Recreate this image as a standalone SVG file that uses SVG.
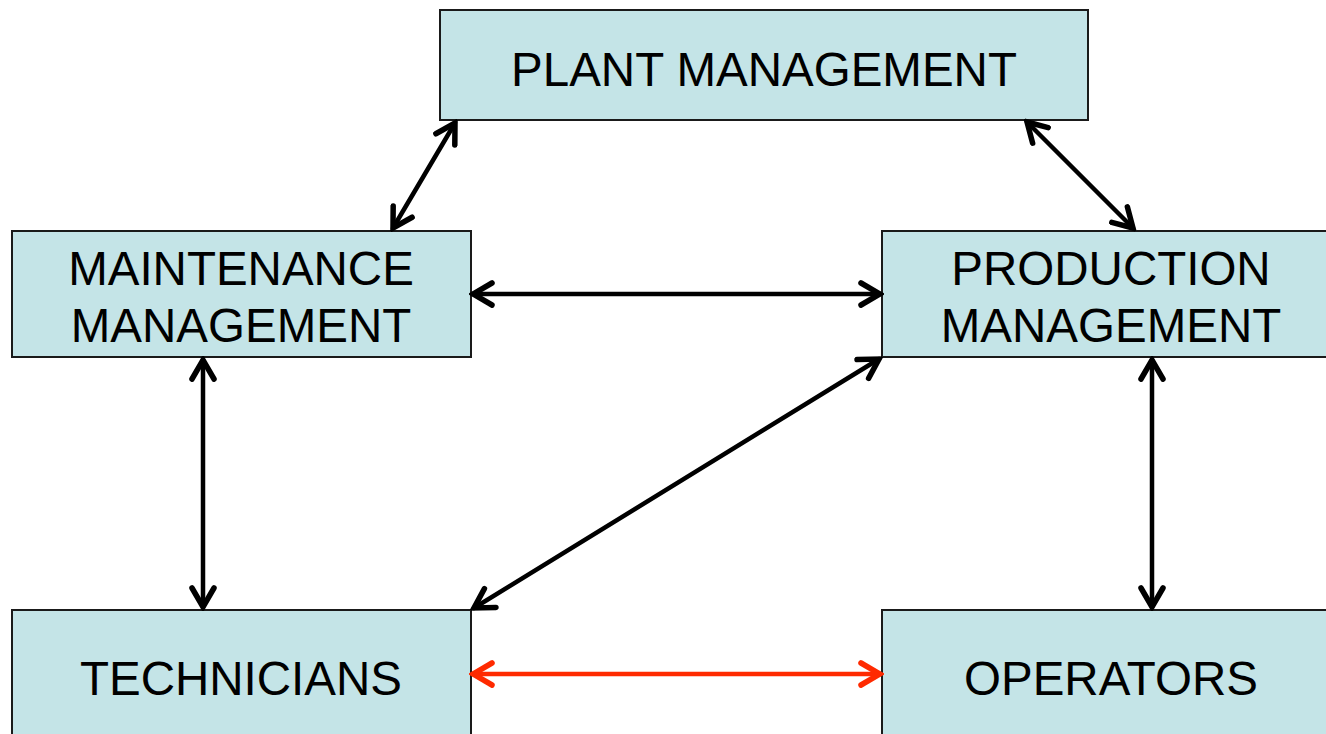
<svg xmlns="http://www.w3.org/2000/svg" width="1326" height="734" viewBox="0 0 1326 734">
<style>
.box{fill:#c4e4e7;stroke:#1a1a1a;stroke-width:2}
.lbl{font-family:"Liberation Sans",Arial,sans-serif;font-size:47.5px;fill:#000;text-anchor:middle}
.c{fill:none;stroke:#000;stroke-width:4.5;stroke-linecap:round}
.r{stroke:#ff2a00}
</style>
<defs>
<marker id="ak" viewBox="-24 -14 28 28" refX="0" refY="0" markerWidth="28" markerHeight="28" markerUnits="userSpaceOnUse" orient="auto-start-reverse">
<path d="M-19,-11 L0,0 L-19,11" fill="none" stroke="#000" stroke-width="5.5" stroke-linecap="round" stroke-linejoin="miter"/>
</marker>
<marker id="ar" viewBox="-24 -14 28 28" refX="0" refY="0" markerWidth="28" markerHeight="28" markerUnits="userSpaceOnUse" orient="auto-start-reverse">
<path d="M-19,-11 L0,0 L-19,11" fill="none" stroke="#ff2a00" stroke-width="5.5" stroke-linecap="round" stroke-linejoin="miter"/>
</marker>
</defs>
<g id="plant"><rect class="box" x="440" y="10" width="648" height="110"/><text class="lbl" x="764" y="86">PLANT MANAGEMENT</text></g>
<g id="maintenance"><rect class="box" x="12" y="231" width="459" height="126"/><text class="lbl" x="241" y="285">MAINTENANCE</text><text class="lbl" x="241" y="342">MANAGEMENT</text></g>
<g id="production"><rect class="box" x="882" y="231" width="460" height="126"/><text class="lbl" x="1111" y="285">PRODUCTION</text><text class="lbl" x="1111" y="342">MANAGEMENT</text></g>
<g id="technicians"><rect class="box" x="12" y="610" width="459" height="140"/><text class="lbl" x="241" y="695">TECHNICIANS</text></g>
<g id="operators"><rect class="box" x="882" y="610" width="460" height="140"/><text class="lbl" x="1111" y="695">OPERATORS</text></g>
<g id="connectors">
<line class="c" x1="455" y1="123" x2="393" y2="228" marker-start="url(#ak)" marker-end="url(#ak)"/>
<line class="c" x1="1027" y1="122" x2="1133" y2="228" marker-start="url(#ak)" marker-end="url(#ak)"/>
<line class="c" x1="473" y1="294" x2="880" y2="294" marker-start="url(#ak)" marker-end="url(#ak)"/>
<line class="c" x1="203" y1="360" x2="203" y2="607" marker-start="url(#ak)" marker-end="url(#ak)"/>
<line class="c" x1="879" y1="359" x2="474" y2="608" marker-start="url(#ak)" marker-end="url(#ak)"/>
<line class="c" x1="1152" y1="360" x2="1152" y2="607" marker-start="url(#ak)" marker-end="url(#ak)"/>
<line class="c r" x1="473" y1="674" x2="880" y2="674" marker-start="url(#ar)" marker-end="url(#ar)"/>
</g>
</svg>
